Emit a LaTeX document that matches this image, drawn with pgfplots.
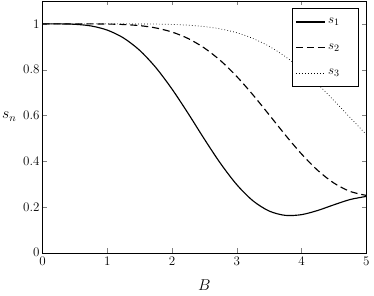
\documentclass[border=0pt]{standalone}
\usepackage{pgfplots}
\usepackage{pgfplotstable}
\pgfplotsset{compat=1.18}
\pgfplotstableread{
B s1 s2 s3
0 1 1 1
0.25 0.9999 1.0000 1.0000
0.5 0.9981 1.0000 1.0000
0.75 0.9909 0.9999 1.0000
1 0.9728 0.9992 1.0000
1.25 0.9387 0.9972 0.9999
1.5 0.8846 0.9923 0.9997
1.75 0.8093 0.9822 0.9991
2 0.7153 0.9643 0.9976
2.25 0.6085 0.9358 0.9942
2.5 0.4965 0.8945 0.9883
2.75 0.3899 0.8392 0.9779
3 0.2976 0.7701 0.9612
3.25 0.2270 0.6898 0.9362
3.5 0.1823 0.6029 0.9021
3.75 0.1633 0.5145 0.8570
4 0.1665 0.4316 0.8017
4.25 0.1848 0.3599 0.7370
4.5 0.2095 0.3045 0.6652
4.75 0.2325 0.2680 0.5906
5 0.2462 0.2505 0.5167
}\datatable
\begin{document}
\fontsize{12.5}{15}\selectfont
\begin{tikzpicture}[font=\fontsize{12.5}{15}\selectfont]
\begin{axis}[
  name=ax,
  scale only axis,
  width=298pt, height=231.7pt,
  xmin=0, xmax=5, ymin=0, ymax=1.1,
  xtick={0,1,2,3,4,5},
  ytick={0,0.2,0.4,0.6,0.8,1},
  tick align=inside,
  major tick length=4pt,
  tick label style={font=\fontsize{12.5}{15}\selectfont},
  yticklabel style={inner xsep=2.5pt},
  xlabel={$B$},
  ylabel={$s_n$},
  every axis x label/.style={at={(axis description cs:0.5,-0.129)}, anchor=center, inner sep=0pt, font=\fontsize{14.5}{17}\selectfont},
  every axis y label/.style={at={(axis description cs:-0.080,0.54)}, anchor=east, inner sep=0pt, font=\fontsize{14.5}{17}\selectfont},
  legend style={at={(0.9756,0.972)}, anchor=north east, draw=black, line width=0.6pt,
    row sep=12.5pt, inner ysep=7pt, inner xsep=3pt, font=\fontsize{12.5}{15}\selectfont},
  legend cell align=left,
  legend image code/.code={\draw[#1] (0cm,0cm) -- (0.95cm,0cm);},
]
\addplot[black, line width=1.05pt, smooth] table[x=B, y=s1] {\datatable};
\addlegendentry{$s_1$\rule{12pt}{0pt}}
\addplot[black, line width=1.05pt, smooth, dash pattern=on 6.5pt off 3.6pt] table[x=B, y=s2] {\datatable};
\addlegendentry{$s_2$\rule{12pt}{0pt}}
\addplot[black, line width=0.65pt, smooth, dash pattern=on 0.65pt off 2.1pt] table[x=B, y=s3] {\datatable};
\addlegendentry{$s_3$\rule{12pt}{0pt}}
\end{axis}
\path (ax.south west) ++(-39.07pt,-39.07pt);
\path (ax.north east) ++(2.7pt,0.9pt);
\end{tikzpicture}
\end{document}
